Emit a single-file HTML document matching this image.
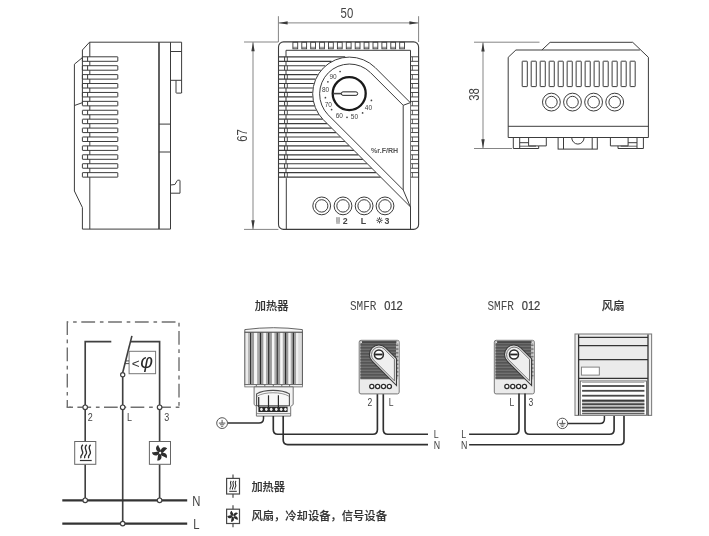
<!DOCTYPE html>
<html lang="zh"><head><meta charset="utf-8"><title>SMFR 012</title>
<style>html,body{margin:0;padding:0;background:#fff}svg{display:block;will-change:transform}</style></head>
<body><svg width="709" height="536" viewBox="0 0 709 536">
<rect width="709" height="536" fill="#fff"/>
<path d="M181.6,42.2 L89.5,42.2 L82.4,50 L82.4,57.6 L74.4,64.2 L74.4,191 L82.4,207.5 L82.4,229.1 L170.5,229.1" fill="none" stroke="#3c3c3c" stroke-width="1" />
<line x1="82.40" y1="57.60" x2="82.40" y2="102.70" stroke="#3c3c3c" stroke-width="1" />
<line x1="74.40" y1="105.50" x2="82.40" y2="102.70" stroke="#3c3c3c" stroke-width="1" />
<line x1="89.80" y1="42.20" x2="89.80" y2="56.80" stroke="#3c3c3c" stroke-width="1" />
<line x1="89.80" y1="177.13" x2="89.80" y2="229.10" stroke="#3c3c3c" stroke-width="1" />
<rect x="82.40" y="56.80" width="35.40" height="4.50" rx="0.3" fill="none" stroke="#3c3c3c" stroke-width="1"/>
<line x1="87.60" y1="56.80" x2="87.60" y2="61.30" stroke="#3c3c3c" stroke-width="1" />
<line x1="89.80" y1="61.30" x2="89.80" y2="65.71" stroke="#3c3c3c" stroke-width="1" />
<rect x="82.40" y="65.71" width="35.40" height="4.50" rx="0.3" fill="none" stroke="#3c3c3c" stroke-width="1"/>
<line x1="87.60" y1="65.71" x2="87.60" y2="70.21" stroke="#3c3c3c" stroke-width="1" />
<line x1="89.80" y1="70.21" x2="89.80" y2="74.62" stroke="#3c3c3c" stroke-width="1" />
<rect x="82.40" y="74.62" width="35.40" height="4.50" rx="0.3" fill="none" stroke="#3c3c3c" stroke-width="1"/>
<line x1="87.60" y1="74.62" x2="87.60" y2="79.12" stroke="#3c3c3c" stroke-width="1" />
<line x1="89.80" y1="79.12" x2="89.80" y2="83.53" stroke="#3c3c3c" stroke-width="1" />
<rect x="82.40" y="83.53" width="35.40" height="4.50" rx="0.3" fill="none" stroke="#3c3c3c" stroke-width="1"/>
<line x1="87.60" y1="83.53" x2="87.60" y2="88.03" stroke="#3c3c3c" stroke-width="1" />
<line x1="89.80" y1="88.03" x2="89.80" y2="92.44" stroke="#3c3c3c" stroke-width="1" />
<rect x="82.40" y="92.44" width="35.40" height="4.50" rx="0.3" fill="none" stroke="#3c3c3c" stroke-width="1"/>
<line x1="87.60" y1="92.44" x2="87.60" y2="96.94" stroke="#3c3c3c" stroke-width="1" />
<line x1="89.80" y1="96.94" x2="89.80" y2="101.35" stroke="#3c3c3c" stroke-width="1" />
<rect x="82.40" y="101.35" width="35.40" height="4.50" rx="0.3" fill="none" stroke="#3c3c3c" stroke-width="1"/>
<line x1="87.60" y1="101.35" x2="87.60" y2="105.85" stroke="#3c3c3c" stroke-width="1" />
<line x1="89.80" y1="105.85" x2="89.80" y2="110.26" stroke="#3c3c3c" stroke-width="1" />
<rect x="82.40" y="110.26" width="35.40" height="4.50" rx="0.3" fill="none" stroke="#3c3c3c" stroke-width="1"/>
<line x1="87.60" y1="110.26" x2="87.60" y2="114.76" stroke="#3c3c3c" stroke-width="1" />
<line x1="89.80" y1="114.76" x2="89.80" y2="119.17" stroke="#3c3c3c" stroke-width="1" />
<rect x="82.40" y="119.17" width="35.40" height="4.50" rx="0.3" fill="none" stroke="#3c3c3c" stroke-width="1"/>
<line x1="87.60" y1="119.17" x2="87.60" y2="123.67" stroke="#3c3c3c" stroke-width="1" />
<line x1="89.80" y1="123.67" x2="89.80" y2="128.08" stroke="#3c3c3c" stroke-width="1" />
<rect x="82.40" y="128.08" width="35.40" height="4.50" rx="0.3" fill="none" stroke="#3c3c3c" stroke-width="1"/>
<line x1="87.60" y1="128.08" x2="87.60" y2="132.58" stroke="#3c3c3c" stroke-width="1" />
<line x1="89.80" y1="132.58" x2="89.80" y2="136.99" stroke="#3c3c3c" stroke-width="1" />
<rect x="82.40" y="136.99" width="35.40" height="4.50" rx="0.3" fill="none" stroke="#3c3c3c" stroke-width="1"/>
<line x1="87.60" y1="136.99" x2="87.60" y2="141.49" stroke="#3c3c3c" stroke-width="1" />
<line x1="89.80" y1="141.49" x2="89.80" y2="145.90" stroke="#3c3c3c" stroke-width="1" />
<rect x="82.40" y="145.90" width="35.40" height="4.50" rx="0.3" fill="none" stroke="#3c3c3c" stroke-width="1"/>
<line x1="87.60" y1="145.90" x2="87.60" y2="150.40" stroke="#3c3c3c" stroke-width="1" />
<line x1="89.80" y1="150.40" x2="89.80" y2="154.81" stroke="#3c3c3c" stroke-width="1" />
<rect x="82.40" y="154.81" width="35.40" height="4.50" rx="0.3" fill="none" stroke="#3c3c3c" stroke-width="1"/>
<line x1="87.60" y1="154.81" x2="87.60" y2="159.31" stroke="#3c3c3c" stroke-width="1" />
<line x1="89.80" y1="159.31" x2="89.80" y2="163.72" stroke="#3c3c3c" stroke-width="1" />
<rect x="82.40" y="163.72" width="35.40" height="4.50" rx="0.3" fill="none" stroke="#3c3c3c" stroke-width="1"/>
<line x1="87.60" y1="163.72" x2="87.60" y2="168.22" stroke="#3c3c3c" stroke-width="1" />
<line x1="89.80" y1="168.22" x2="89.80" y2="172.63" stroke="#3c3c3c" stroke-width="1" />
<rect x="82.40" y="172.63" width="35.40" height="4.50" rx="0.3" fill="none" stroke="#3c3c3c" stroke-width="1"/>
<line x1="87.60" y1="172.63" x2="87.60" y2="177.13" stroke="#3c3c3c" stroke-width="1" />
<line x1="159.00" y1="42.20" x2="159.00" y2="229.10" stroke="#3a3a3a" stroke-width="1.6" />
<line x1="170.50" y1="42.20" x2="170.50" y2="229.10" stroke="#3c3c3c" stroke-width="1" />
<line x1="181.60" y1="42.20" x2="181.60" y2="93.10" stroke="#3c3c3c" stroke-width="1" />
<line x1="170.50" y1="51.50" x2="181.60" y2="51.50" stroke="#3c3c3c" stroke-width="1" />
<line x1="170.50" y1="80.30" x2="181.60" y2="80.30" stroke="#3c3c3c" stroke-width="1" />
<path d="M176,80.3 L176,92.6 Q176,93.1 176.5,93.1 L181.1,93.1 Q181.6,93.1 181.6,92.6" fill="none" stroke="#3c3c3c" stroke-width="1" />
<line x1="159.00" y1="124.10" x2="170.50" y2="124.10" stroke="#3c3c3c" stroke-width="1" />
<line x1="159.00" y1="152.00" x2="170.50" y2="152.00" stroke="#3c3c3c" stroke-width="1" />
<path d="M170.5,185 L174.9,184.5 L177.2,180.6 Q177.5,180.2 178,180.2 L179.4,180.2 Q180,180.2 180,180.8 L180,193.2 L170.5,193.2" fill="none" stroke="#3c3c3c" stroke-width="1" />
<line x1="278.50" y1="56.80" x2="345.20" y2="56.80" stroke="#3c3c3c" stroke-width="1.15" />
<line x1="278.50" y1="61.30" x2="331.57" y2="61.30" stroke="#3c3c3c" stroke-width="1.15" />
<line x1="278.50" y1="65.71" x2="325.19" y2="65.71" stroke="#3c3c3c" stroke-width="1.15" />
<line x1="278.50" y1="70.21" x2="320.79" y2="70.21" stroke="#3c3c3c" stroke-width="1.15" />
<line x1="278.50" y1="74.62" x2="317.67" y2="74.62" stroke="#3c3c3c" stroke-width="1.15" />
<line x1="278.50" y1="79.12" x2="315.37" y2="79.12" stroke="#3c3c3c" stroke-width="1.15" />
<line x1="278.50" y1="83.53" x2="313.80" y2="83.53" stroke="#3c3c3c" stroke-width="1.15" />
<line x1="278.50" y1="88.03" x2="312.82" y2="88.03" stroke="#3c3c3c" stroke-width="1.15" />
<line x1="278.50" y1="92.44" x2="312.42" y2="92.44" stroke="#3c3c3c" stroke-width="1.15" />
<line x1="278.50" y1="96.94" x2="312.55" y2="96.94" stroke="#3c3c3c" stroke-width="1.15" />
<line x1="278.50" y1="101.35" x2="313.23" y2="101.35" stroke="#3c3c3c" stroke-width="1.15" />
<line x1="278.50" y1="105.85" x2="314.50" y2="105.85" stroke="#3c3c3c" stroke-width="1.15" />
<line x1="278.50" y1="110.26" x2="316.39" y2="110.26" stroke="#3c3c3c" stroke-width="1.15" />
<line x1="278.50" y1="114.76" x2="319.09" y2="114.76" stroke="#3c3c3c" stroke-width="1.15" />
<line x1="278.50" y1="119.17" x2="322.73" y2="119.17" stroke="#3c3c3c" stroke-width="1.15" />
<line x1="278.50" y1="123.67" x2="327.23" y2="123.67" stroke="#3c3c3c" stroke-width="1.15" />
<line x1="278.50" y1="128.08" x2="331.64" y2="128.08" stroke="#3c3c3c" stroke-width="1.15" />
<line x1="278.50" y1="132.58" x2="336.14" y2="132.58" stroke="#3c3c3c" stroke-width="1.15" />
<line x1="278.50" y1="136.99" x2="340.55" y2="136.99" stroke="#3c3c3c" stroke-width="1.15" />
<line x1="278.50" y1="141.49" x2="345.05" y2="141.49" stroke="#3c3c3c" stroke-width="1.15" />
<line x1="278.50" y1="145.90" x2="349.46" y2="145.90" stroke="#3c3c3c" stroke-width="1.15" />
<line x1="278.50" y1="150.40" x2="353.96" y2="150.40" stroke="#3c3c3c" stroke-width="1.15" />
<line x1="278.50" y1="154.81" x2="358.37" y2="154.81" stroke="#3c3c3c" stroke-width="1.15" />
<line x1="278.50" y1="159.31" x2="362.87" y2="159.31" stroke="#3c3c3c" stroke-width="1.15" />
<line x1="278.50" y1="163.72" x2="367.28" y2="163.72" stroke="#3c3c3c" stroke-width="1.15" />
<line x1="278.50" y1="168.22" x2="371.78" y2="168.22" stroke="#3c3c3c" stroke-width="1.15" />
<line x1="278.50" y1="172.63" x2="376.19" y2="172.63" stroke="#3c3c3c" stroke-width="1.15" />
<line x1="278.50" y1="177.13" x2="380.69" y2="177.13" stroke="#3c3c3c" stroke-width="1.15" />
<line x1="284.60" y1="56.80" x2="284.60" y2="61.30" stroke="#3c3c3c" stroke-width="1" />
<line x1="287.30" y1="56.80" x2="287.30" y2="61.30" stroke="#3c3c3c" stroke-width="0.9" />
<line x1="286.00" y1="61.30" x2="286.00" y2="65.71" stroke="#3c3c3c" stroke-width="1" />
<line x1="284.60" y1="65.71" x2="284.60" y2="70.21" stroke="#3c3c3c" stroke-width="1" />
<line x1="287.30" y1="65.71" x2="287.30" y2="70.21" stroke="#3c3c3c" stroke-width="0.9" />
<line x1="286.00" y1="70.21" x2="286.00" y2="74.62" stroke="#3c3c3c" stroke-width="1" />
<line x1="284.60" y1="74.62" x2="284.60" y2="79.12" stroke="#3c3c3c" stroke-width="1" />
<line x1="287.30" y1="74.62" x2="287.30" y2="79.12" stroke="#3c3c3c" stroke-width="0.9" />
<line x1="286.00" y1="79.12" x2="286.00" y2="83.53" stroke="#3c3c3c" stroke-width="1" />
<line x1="284.60" y1="83.53" x2="284.60" y2="88.03" stroke="#3c3c3c" stroke-width="1" />
<line x1="287.30" y1="83.53" x2="287.30" y2="88.03" stroke="#3c3c3c" stroke-width="0.9" />
<line x1="286.00" y1="88.03" x2="286.00" y2="92.44" stroke="#3c3c3c" stroke-width="1" />
<line x1="284.60" y1="92.44" x2="284.60" y2="96.94" stroke="#3c3c3c" stroke-width="1" />
<line x1="287.30" y1="92.44" x2="287.30" y2="96.94" stroke="#3c3c3c" stroke-width="0.9" />
<line x1="286.00" y1="96.94" x2="286.00" y2="101.35" stroke="#3c3c3c" stroke-width="1" />
<line x1="284.60" y1="101.35" x2="284.60" y2="105.85" stroke="#3c3c3c" stroke-width="1" />
<line x1="287.30" y1="101.35" x2="287.30" y2="105.85" stroke="#3c3c3c" stroke-width="0.9" />
<line x1="286.00" y1="105.85" x2="286.00" y2="110.26" stroke="#3c3c3c" stroke-width="1" />
<line x1="284.60" y1="110.26" x2="284.60" y2="114.76" stroke="#3c3c3c" stroke-width="1" />
<line x1="287.30" y1="110.26" x2="287.30" y2="114.76" stroke="#3c3c3c" stroke-width="0.9" />
<line x1="286.00" y1="114.76" x2="286.00" y2="119.17" stroke="#3c3c3c" stroke-width="1" />
<line x1="284.60" y1="119.17" x2="284.60" y2="123.67" stroke="#3c3c3c" stroke-width="1" />
<line x1="287.30" y1="119.17" x2="287.30" y2="123.67" stroke="#3c3c3c" stroke-width="0.9" />
<line x1="286.00" y1="123.67" x2="286.00" y2="128.08" stroke="#3c3c3c" stroke-width="1" />
<line x1="284.60" y1="128.08" x2="284.60" y2="132.58" stroke="#3c3c3c" stroke-width="1" />
<line x1="287.30" y1="128.08" x2="287.30" y2="132.58" stroke="#3c3c3c" stroke-width="0.9" />
<line x1="286.00" y1="132.58" x2="286.00" y2="136.99" stroke="#3c3c3c" stroke-width="1" />
<line x1="284.60" y1="136.99" x2="284.60" y2="141.49" stroke="#3c3c3c" stroke-width="1" />
<line x1="287.30" y1="136.99" x2="287.30" y2="141.49" stroke="#3c3c3c" stroke-width="0.9" />
<line x1="286.00" y1="141.49" x2="286.00" y2="145.90" stroke="#3c3c3c" stroke-width="1" />
<line x1="284.60" y1="145.90" x2="284.60" y2="150.40" stroke="#3c3c3c" stroke-width="1" />
<line x1="287.30" y1="145.90" x2="287.30" y2="150.40" stroke="#3c3c3c" stroke-width="0.9" />
<line x1="286.00" y1="150.40" x2="286.00" y2="154.81" stroke="#3c3c3c" stroke-width="1" />
<line x1="284.60" y1="154.81" x2="284.60" y2="159.31" stroke="#3c3c3c" stroke-width="1" />
<line x1="287.30" y1="154.81" x2="287.30" y2="159.31" stroke="#3c3c3c" stroke-width="0.9" />
<line x1="286.00" y1="159.31" x2="286.00" y2="163.72" stroke="#3c3c3c" stroke-width="1" />
<line x1="284.60" y1="163.72" x2="284.60" y2="168.22" stroke="#3c3c3c" stroke-width="1" />
<line x1="287.30" y1="163.72" x2="287.30" y2="168.22" stroke="#3c3c3c" stroke-width="0.9" />
<line x1="286.00" y1="168.22" x2="286.00" y2="172.63" stroke="#3c3c3c" stroke-width="1" />
<line x1="284.60" y1="172.63" x2="284.60" y2="177.13" stroke="#3c3c3c" stroke-width="1" />
<line x1="287.30" y1="172.63" x2="287.30" y2="177.13" stroke="#3c3c3c" stroke-width="0.9" />
<rect x="278.50" y="41.90" width="140.10" height="187.50" rx="5" fill="none" stroke="#3c3c3c" stroke-width="1.1"/>
<path d="M286,56.8 L286,50.3 L410.5,50.3 L410.5,56.8" fill="none" stroke="#3c3c3c" stroke-width="1" />
<rect x="292.90" y="42.20" width="4.80" height="6.60" rx="0" fill="none" stroke="#3c3c3c" stroke-width="0.9"/>
<line x1="292.90" y1="47.30" x2="297.70" y2="47.30" stroke="#3c3c3c" stroke-width="0.6" />
<rect x="301.80" y="42.20" width="4.80" height="6.60" rx="0" fill="none" stroke="#3c3c3c" stroke-width="0.9"/>
<line x1="301.80" y1="47.30" x2="306.60" y2="47.30" stroke="#3c3c3c" stroke-width="0.6" />
<rect x="310.70" y="42.20" width="4.80" height="6.60" rx="0" fill="none" stroke="#3c3c3c" stroke-width="0.9"/>
<line x1="310.70" y1="47.30" x2="315.50" y2="47.30" stroke="#3c3c3c" stroke-width="0.6" />
<rect x="319.60" y="42.20" width="4.80" height="6.60" rx="0" fill="none" stroke="#3c3c3c" stroke-width="0.9"/>
<line x1="319.60" y1="47.30" x2="324.40" y2="47.30" stroke="#3c3c3c" stroke-width="0.6" />
<rect x="328.50" y="42.20" width="4.80" height="6.60" rx="0" fill="none" stroke="#3c3c3c" stroke-width="0.9"/>
<line x1="328.50" y1="47.30" x2="333.30" y2="47.30" stroke="#3c3c3c" stroke-width="0.6" />
<rect x="337.40" y="42.20" width="4.80" height="6.60" rx="0" fill="none" stroke="#3c3c3c" stroke-width="0.9"/>
<line x1="337.40" y1="47.30" x2="342.20" y2="47.30" stroke="#3c3c3c" stroke-width="0.6" />
<rect x="346.30" y="42.20" width="4.80" height="6.60" rx="0" fill="none" stroke="#3c3c3c" stroke-width="0.9"/>
<line x1="346.30" y1="47.30" x2="351.10" y2="47.30" stroke="#3c3c3c" stroke-width="0.6" />
<rect x="355.20" y="42.20" width="4.80" height="6.60" rx="0" fill="none" stroke="#3c3c3c" stroke-width="0.9"/>
<line x1="355.20" y1="47.30" x2="360.00" y2="47.30" stroke="#3c3c3c" stroke-width="0.6" />
<rect x="364.10" y="42.20" width="4.80" height="6.60" rx="0" fill="none" stroke="#3c3c3c" stroke-width="0.9"/>
<line x1="364.10" y1="47.30" x2="368.90" y2="47.30" stroke="#3c3c3c" stroke-width="0.6" />
<rect x="373.00" y="42.20" width="4.80" height="6.60" rx="0" fill="none" stroke="#3c3c3c" stroke-width="0.9"/>
<line x1="373.00" y1="47.30" x2="377.80" y2="47.30" stroke="#3c3c3c" stroke-width="0.6" />
<rect x="381.90" y="42.20" width="4.80" height="6.60" rx="0" fill="none" stroke="#3c3c3c" stroke-width="0.9"/>
<line x1="381.90" y1="47.30" x2="386.70" y2="47.30" stroke="#3c3c3c" stroke-width="0.6" />
<rect x="390.80" y="42.20" width="4.80" height="6.60" rx="0" fill="none" stroke="#3c3c3c" stroke-width="0.9"/>
<line x1="390.80" y1="47.30" x2="395.60" y2="47.30" stroke="#3c3c3c" stroke-width="0.6" />
<rect x="399.70" y="42.20" width="4.80" height="6.60" rx="0" fill="none" stroke="#3c3c3c" stroke-width="0.9"/>
<line x1="399.70" y1="47.30" x2="404.50" y2="47.30" stroke="#3c3c3c" stroke-width="0.6" />
<line x1="410.50" y1="56.80" x2="410.50" y2="178.20" stroke="#3c3c3c" stroke-width="1" />
<rect x="410.50" y="56.80" width="8.10" height="4.50" rx="0" fill="none" stroke="#3c3c3c" stroke-width="0.9"/>
<line x1="412.40" y1="56.80" x2="412.40" y2="61.30" stroke="#3c3c3c" stroke-width="0.8" />
<rect x="410.50" y="65.71" width="8.10" height="4.50" rx="0" fill="none" stroke="#3c3c3c" stroke-width="0.9"/>
<line x1="412.40" y1="65.71" x2="412.40" y2="70.21" stroke="#3c3c3c" stroke-width="0.8" />
<rect x="410.50" y="74.62" width="8.10" height="4.50" rx="0" fill="none" stroke="#3c3c3c" stroke-width="0.9"/>
<line x1="412.40" y1="74.62" x2="412.40" y2="79.12" stroke="#3c3c3c" stroke-width="0.8" />
<rect x="410.50" y="83.53" width="8.10" height="4.50" rx="0" fill="none" stroke="#3c3c3c" stroke-width="0.9"/>
<line x1="412.40" y1="83.53" x2="412.40" y2="88.03" stroke="#3c3c3c" stroke-width="0.8" />
<rect x="410.50" y="92.44" width="8.10" height="4.50" rx="0" fill="none" stroke="#3c3c3c" stroke-width="0.9"/>
<line x1="412.40" y1="92.44" x2="412.40" y2="96.94" stroke="#3c3c3c" stroke-width="0.8" />
<rect x="410.50" y="101.35" width="8.10" height="4.50" rx="0" fill="none" stroke="#3c3c3c" stroke-width="0.9"/>
<line x1="412.40" y1="101.35" x2="412.40" y2="105.85" stroke="#3c3c3c" stroke-width="0.8" />
<rect x="410.50" y="110.26" width="8.10" height="4.50" rx="0" fill="none" stroke="#3c3c3c" stroke-width="0.9"/>
<line x1="412.40" y1="110.26" x2="412.40" y2="114.76" stroke="#3c3c3c" stroke-width="0.8" />
<rect x="410.50" y="119.17" width="8.10" height="4.50" rx="0" fill="none" stroke="#3c3c3c" stroke-width="0.9"/>
<line x1="412.40" y1="119.17" x2="412.40" y2="123.67" stroke="#3c3c3c" stroke-width="0.8" />
<rect x="410.50" y="128.08" width="8.10" height="4.50" rx="0" fill="none" stroke="#3c3c3c" stroke-width="0.9"/>
<line x1="412.40" y1="128.08" x2="412.40" y2="132.58" stroke="#3c3c3c" stroke-width="0.8" />
<rect x="410.50" y="136.99" width="8.10" height="4.50" rx="0" fill="none" stroke="#3c3c3c" stroke-width="0.9"/>
<line x1="412.40" y1="136.99" x2="412.40" y2="141.49" stroke="#3c3c3c" stroke-width="0.8" />
<rect x="410.50" y="145.90" width="8.10" height="4.50" rx="0" fill="none" stroke="#3c3c3c" stroke-width="0.9"/>
<line x1="412.40" y1="145.90" x2="412.40" y2="150.40" stroke="#3c3c3c" stroke-width="0.8" />
<rect x="410.50" y="154.81" width="8.10" height="4.50" rx="0" fill="none" stroke="#3c3c3c" stroke-width="0.9"/>
<line x1="412.40" y1="154.81" x2="412.40" y2="159.31" stroke="#3c3c3c" stroke-width="0.8" />
<rect x="410.50" y="163.72" width="8.10" height="4.50" rx="0" fill="none" stroke="#3c3c3c" stroke-width="0.9"/>
<line x1="412.40" y1="163.72" x2="412.40" y2="168.22" stroke="#3c3c3c" stroke-width="0.8" />
<rect x="410.50" y="172.63" width="8.10" height="4.50" rx="0" fill="none" stroke="#3c3c3c" stroke-width="0.9"/>
<line x1="412.40" y1="172.63" x2="412.40" y2="177.13" stroke="#3c3c3c" stroke-width="0.8" />
<line x1="286.30" y1="178.20" x2="286.30" y2="229.40" stroke="#3c3c3c" stroke-width="1" />
<line x1="410.50" y1="178.20" x2="410.50" y2="229.40" stroke="#3c3c3c" stroke-width="1" />
<path d="M323.18,119.62 A36.8,36.8 0 0 1 375.22,67.58 L410.3,102.66 L410.3,206.74 Z" fill="#fff" stroke="none" stroke-width="0" />
<path d="M410.3,206.74 L323.18,119.62 A36.8,36.8 0 0 1 375.22,67.58 L410.3,102.66" fill="none" stroke="#3c3c3c" stroke-width="1" />
<path d="M403.2,105.32 L370.34,72.46 A29.9,29.9 0 0 0 328.06,114.74 L403.2,189.88 Z" fill="none" stroke="#3c3c3c" stroke-width="1" />
<line x1="403.20" y1="105.32" x2="410.30" y2="102.66" stroke="#3c3c3c" stroke-width="1" />
<line x1="403.20" y1="189.88" x2="410.30" y2="206.74" stroke="#3c3c3c" stroke-width="1" />
<circle cx="349.20" cy="93.60" r="16.50" fill="none" stroke="#1a1a1a" stroke-width="2.3"/>
<line x1="333.00" y1="93.60" x2="342.00" y2="93.60" stroke="#444" stroke-width="1.6" />
<rect x="341.30" y="91.85" width="16.40" height="3.50" rx="1.75" fill="#fff" stroke="#222" stroke-width="1"/>
<text x="333.10" y="78.80" font-size="6.5" text-anchor="middle" font-family='"Liberation Sans", sans-serif' font-weight="normal" fill="#404040"  >90</text>
<text x="325.60" y="92.30" font-size="6.5" text-anchor="middle" font-family='"Liberation Sans", sans-serif' font-weight="normal" fill="#404040"  >80</text>
<text x="328.30" y="107.20" font-size="6.5" text-anchor="middle" font-family='"Liberation Sans", sans-serif' font-weight="normal" fill="#404040"  >70</text>
<text x="339.30" y="117.80" font-size="6.5" text-anchor="middle" font-family='"Liberation Sans", sans-serif' font-weight="normal" fill="#404040"  >60</text>
<text x="354.40" y="118.70" font-size="6.5" text-anchor="middle" font-family='"Liberation Sans", sans-serif' font-weight="normal" fill="#404040"  >50</text>
<text x="368.40" y="110.00" font-size="6.5" text-anchor="middle" font-family='"Liberation Sans", sans-serif' font-weight="normal" fill="#404040"  >40</text>
<circle cx="340.1" cy="71.5" r="0.85" fill="#444"/>
<circle cx="327.9" cy="81.8" r="0.85" fill="#444"/>
<circle cx="325.4" cy="97.7" r="0.85" fill="#444"/>
<circle cx="331.6" cy="109.6" r="0.85" fill="#444"/>
<circle cx="347" cy="117.3" r="0.85" fill="#444"/>
<circle cx="362.6" cy="112.9" r="0.85" fill="#444"/>
<circle cx="371.4" cy="100.4" r="0.85" fill="#444"/>
<text x="384.60" y="152.70" font-size="6.3" text-anchor="middle" font-family='"Liberation Sans", sans-serif' font-weight="bold" fill="#555" textLength="27" lengthAdjust="spacingAndGlyphs" >%r.F/RH</text>
<circle cx="321.70" cy="205.90" r="8.90" fill="none" stroke="#3c3c3c" stroke-width="1"/>
<circle cx="321.70" cy="205.90" r="6.20" fill="none" stroke="#3c3c3c" stroke-width="1"/>
<circle cx="343.00" cy="205.90" r="8.90" fill="none" stroke="#3c3c3c" stroke-width="1"/>
<circle cx="343.00" cy="205.90" r="6.20" fill="none" stroke="#3c3c3c" stroke-width="1"/>
<circle cx="364.10" cy="205.90" r="8.90" fill="none" stroke="#3c3c3c" stroke-width="1"/>
<circle cx="364.10" cy="205.90" r="6.20" fill="none" stroke="#3c3c3c" stroke-width="1"/>
<circle cx="385.00" cy="205.90" r="8.90" fill="none" stroke="#3c3c3c" stroke-width="1"/>
<circle cx="385.00" cy="205.90" r="6.20" fill="none" stroke="#3c3c3c" stroke-width="1"/>
<text x="345.10" y="223.50" font-size="8.8" text-anchor="middle" font-family='"Liberation Sans", sans-serif' font-weight="bold" fill="#444"  >2</text>
<text x="363.40" y="223.50" font-size="8.8" text-anchor="middle" font-family='"Liberation Sans", sans-serif' font-weight="bold" fill="#444"  >L</text>
<text x="387.00" y="223.50" font-size="8.8" text-anchor="middle" font-family='"Liberation Sans", sans-serif' font-weight="bold" fill="#444"  >3</text>
<line x1="336.75" y1="217.20" x2="336.75" y2="222.20" stroke="#666" stroke-width="0.7" />
<line x1="338.00" y1="217.20" x2="338.00" y2="222.20" stroke="#666" stroke-width="0.7" />
<line x1="339.25" y1="217.20" x2="339.25" y2="222.20" stroke="#666" stroke-width="0.7" />
<line x1="336.10" y1="223.00" x2="339.90" y2="223.00" stroke="#666" stroke-width="0.8" />
<line x1="376.40" y1="220.30" x2="382.60" y2="220.30" stroke="#444" stroke-width="1.0" />
<line x1="377.31" y1="218.11" x2="381.69" y2="222.49" stroke="#444" stroke-width="1.0" />
<line x1="379.50" y1="217.20" x2="379.50" y2="223.40" stroke="#444" stroke-width="1.0" />
<line x1="381.69" y1="218.11" x2="377.31" y2="222.49" stroke="#444" stroke-width="1.0" />
<circle cx="379.5" cy="220.3" r="0.9" fill="#fff"/>
<line x1="278.40" y1="16.20" x2="278.40" y2="42.00" stroke="#858585" stroke-width="1" />
<line x1="418.60" y1="16.20" x2="418.60" y2="42.00" stroke="#858585" stroke-width="1" />
<line x1="278.40" y1="22.90" x2="418.60" y2="22.90" stroke="#858585" stroke-width="1" />
<polygon points="278.60,22.90 287.60,21.20 287.60,24.60" fill="#3a3a3a"/>
<polygon points="418.40,22.90 409.40,24.60 409.40,21.20" fill="#3a3a3a"/>
<text transform="translate(346.9,18.2) scale(0.8,1)" font-size="14.2" text-anchor="middle" font-family='"Liberation Sans", sans-serif' fill="#444">50</text>
<line x1="244.00" y1="42.00" x2="278.40" y2="42.00" stroke="#858585" stroke-width="1" />
<line x1="244.00" y1="229.40" x2="278.40" y2="229.40" stroke="#858585" stroke-width="1" />
<line x1="253.00" y1="42.00" x2="253.00" y2="229.40" stroke="#858585" stroke-width="1" />
<polygon points="253.00,42.20 254.70,51.20 251.30,51.20" fill="#3a3a3a"/>
<polygon points="253.00,229.20 251.30,220.20 254.70,220.20" fill="#3a3a3a"/>
<text transform="translate(247.4,135.4) rotate(-90) scale(0.8,1)" font-size="14.2" text-anchor="middle" font-family='"Liberation Sans", sans-serif' fill="#444">67</text>
<line x1="474.00" y1="42.20" x2="539.50" y2="42.20" stroke="#858585" stroke-width="1" />
<line x1="474.00" y1="148.50" x2="512.00" y2="148.50" stroke="#858585" stroke-width="1" />
<line x1="483.00" y1="42.20" x2="483.00" y2="148.50" stroke="#858585" stroke-width="1" />
<polygon points="483.00,42.40 484.70,51.40 481.30,51.40" fill="#3a3a3a"/>
<polygon points="483.00,148.30 481.30,139.30 484.70,139.30" fill="#3a3a3a"/>
<text transform="translate(479.1,94.5) rotate(-90) scale(0.8,1)" font-size="14.2" text-anchor="middle" font-family='"Liberation Sans", sans-serif' fill="#444">38</text>
<path d="M541.9,50.0 L550.1,42.3 L632.7,42.3 L648.4,57.3 L648.4,137.5 L508.2,137.5 L508.2,57.3 L515.9,50.0 L639.9,50.0" fill="none" stroke="#3c3c3c" stroke-width="1" />
<line x1="508.20" y1="126.30" x2="648.40" y2="126.30" stroke="#3c3c3c" stroke-width="1" />
<rect x="522.20" y="61.20" width="5.10" height="25.40" rx="0.4" fill="none" stroke="#3c3c3c" stroke-width="1"/>
<rect x="531.19" y="61.20" width="5.10" height="25.40" rx="0.4" fill="none" stroke="#3c3c3c" stroke-width="1"/>
<rect x="540.18" y="61.20" width="5.10" height="25.40" rx="0.4" fill="none" stroke="#3c3c3c" stroke-width="1"/>
<rect x="549.17" y="61.20" width="5.10" height="25.40" rx="0.4" fill="none" stroke="#3c3c3c" stroke-width="1"/>
<rect x="558.16" y="61.20" width="5.10" height="25.40" rx="0.4" fill="none" stroke="#3c3c3c" stroke-width="1"/>
<rect x="567.15" y="61.20" width="5.10" height="25.40" rx="0.4" fill="none" stroke="#3c3c3c" stroke-width="1"/>
<rect x="576.14" y="61.20" width="5.10" height="25.40" rx="0.4" fill="none" stroke="#3c3c3c" stroke-width="1"/>
<rect x="585.13" y="61.20" width="5.10" height="25.40" rx="0.4" fill="none" stroke="#3c3c3c" stroke-width="1"/>
<rect x="594.12" y="61.20" width="5.10" height="25.40" rx="0.4" fill="none" stroke="#3c3c3c" stroke-width="1"/>
<rect x="603.11" y="61.20" width="5.10" height="25.40" rx="0.4" fill="none" stroke="#3c3c3c" stroke-width="1"/>
<rect x="612.10" y="61.20" width="5.10" height="25.40" rx="0.4" fill="none" stroke="#3c3c3c" stroke-width="1"/>
<rect x="621.09" y="61.20" width="5.10" height="25.40" rx="0.4" fill="none" stroke="#3c3c3c" stroke-width="1"/>
<rect x="630.08" y="61.20" width="5.10" height="25.40" rx="0.4" fill="none" stroke="#3c3c3c" stroke-width="1"/>
<circle cx="551.40" cy="102.10" r="8.90" fill="none" stroke="#3c3c3c" stroke-width="1"/>
<circle cx="551.40" cy="102.10" r="5.80" fill="none" stroke="#3c3c3c" stroke-width="1"/>
<circle cx="572.50" cy="102.10" r="8.90" fill="none" stroke="#3c3c3c" stroke-width="1"/>
<circle cx="572.50" cy="102.10" r="5.80" fill="none" stroke="#3c3c3c" stroke-width="1"/>
<circle cx="593.60" cy="102.10" r="8.90" fill="none" stroke="#3c3c3c" stroke-width="1"/>
<circle cx="593.60" cy="102.10" r="5.80" fill="none" stroke="#3c3c3c" stroke-width="1"/>
<circle cx="614.70" cy="102.10" r="8.90" fill="none" stroke="#3c3c3c" stroke-width="1"/>
<circle cx="614.70" cy="102.10" r="5.80" fill="none" stroke="#3c3c3c" stroke-width="1"/>
<path d="M513.30,137.50 L513.30,148.50 L538.70,148.50 L538.70,145.90 L546.30,145.90 L546.30,137.50" fill="none" stroke="#3c3c3c" stroke-width="1" />
<line x1="519.70" y1="137.50" x2="519.70" y2="148.50" stroke="#3c3c3c" stroke-width="1" />
<line x1="528.60" y1="137.50" x2="528.60" y2="145.90" stroke="#3c3c3c" stroke-width="1" />
<line x1="528.60" y1="145.90" x2="538.70" y2="145.90" stroke="#3c3c3c" stroke-width="1" />
<line x1="519.70" y1="142.70" x2="528.60" y2="142.70" stroke="#3c3c3c" stroke-width="1" />
<line x1="519.70" y1="146.20" x2="536.00" y2="146.20" stroke="#3c3c3c" stroke-width="0.8" />
<path d="M643.40,137.50 L643.40,148.50 L618.00,148.50 L618.00,145.90 L610.40,145.90 L610.40,137.50" fill="none" stroke="#3c3c3c" stroke-width="1" />
<line x1="637.00" y1="137.50" x2="637.00" y2="148.50" stroke="#3c3c3c" stroke-width="1" />
<line x1="628.10" y1="137.50" x2="628.10" y2="145.90" stroke="#3c3c3c" stroke-width="1" />
<line x1="628.10" y1="145.90" x2="618.00" y2="145.90" stroke="#3c3c3c" stroke-width="1" />
<line x1="637.00" y1="142.70" x2="628.10" y2="142.70" stroke="#3c3c3c" stroke-width="1" />
<line x1="637.00" y1="146.20" x2="620.70" y2="146.20" stroke="#3c3c3c" stroke-width="0.8" />
<rect x="558.10" y="137.50" width="39.20" height="11.60" rx="0" fill="none" stroke="#3c3c3c" stroke-width="1"/>
<line x1="563.50" y1="137.50" x2="563.50" y2="149.10" stroke="#3c3c3c" stroke-width="1" />
<line x1="592.20" y1="137.50" x2="592.20" y2="149.10" stroke="#3c3c3c" stroke-width="1" />
<path d="M571.7,137.5 A6.2,6.6 0 0 0 584.1,137.5" fill="none" stroke="#3c3c3c" stroke-width="1" />
<line x1="67.3" y1="322" x2="179" y2="322" stroke="#707070" stroke-width="1.4" stroke-dasharray="13.8 4.8 3.6 4.6" stroke-dashoffset="12.8"/>
<line x1="67.3" y1="321.3" x2="67.3" y2="407.3" stroke="#707070" stroke-width="1.4" stroke-dasharray="13.8 4.4 3.7 4.3" stroke-dashoffset="0"/>
<line x1="179" y1="322" x2="179" y2="407.3" stroke="#707070" stroke-width="1.4" stroke-dasharray="13.8 4.5 3.8 4.3" stroke-dashoffset="17.5"/>
<line x1="67.3" y1="407.3" x2="179.7" y2="407.3" stroke="#707070" stroke-width="1.4" stroke-dasharray="13.7 4.8 3.7 4.4" stroke-dashoffset="16.5"/>
<line x1="66.6" y1="407.3" x2="70.8" y2="407.3" stroke="#707070" stroke-width="1.4"/>
<path d="M85.2,405 L85.2,341.6 L111.3,341.6" fill="none" stroke="#404040" stroke-width="1.65" />
<path d="M159.6,405 L159.6,341.6 L130.2,341.6" fill="none" stroke="#404040" stroke-width="1.65" />
<line x1="122.70" y1="372.60" x2="131.90" y2="335.90" stroke="#404040" stroke-width="1.65" />
<line x1="122.70" y1="376.80" x2="122.70" y2="405.00" stroke="#404040" stroke-width="1.65" />
<circle cx="122.70" cy="374.70" r="2.10" fill="#fff" stroke="#404040" stroke-width="1.2"/>
<rect x="129.10" y="351.30" width="26.50" height="22.40" rx="0" fill="none" stroke="#777" stroke-width="1"/>
<line x1="125.40" y1="360.90" x2="129.10" y2="360.90" stroke="#404040" stroke-width="0.9" />
<line x1="124.80" y1="363.60" x2="129.10" y2="363.60" stroke="#404040" stroke-width="0.9" />
<text x="135.60" y="367.60" font-size="13.5" text-anchor="middle" font-family='"Liberation Sans", sans-serif' font-weight="normal" fill="#333"  >&lt;</text>
<text x="146.6" y="367.6" font-size="19.5" text-anchor="middle" font-family='"Liberation Sans","DejaVu Sans", sans-serif' font-style="italic" fill="#2a2a2a">φ</text>
<line x1="85.20" y1="409.60" x2="85.20" y2="441.40" stroke="#404040" stroke-width="1.65" />
<line x1="85.20" y1="464.30" x2="85.20" y2="498.00" stroke="#404040" stroke-width="1.65" />
<line x1="159.60" y1="409.60" x2="159.60" y2="441.40" stroke="#404040" stroke-width="1.65" />
<line x1="159.60" y1="464.30" x2="159.60" y2="498.00" stroke="#404040" stroke-width="1.65" />
<line x1="122.70" y1="409.60" x2="122.70" y2="521.40" stroke="#404040" stroke-width="1.65" />
<circle cx="85.20" cy="407.30" r="2.30" fill="#fff" stroke="#404040" stroke-width="1.2"/>
<circle cx="122.70" cy="407.30" r="2.30" fill="#fff" stroke="#404040" stroke-width="1.2"/>
<circle cx="159.60" cy="407.30" r="2.30" fill="#fff" stroke="#404040" stroke-width="1.2"/>
<text transform="translate(90.2,420.6) scale(0.78,1)" font-size="11.5" text-anchor="middle" font-family='"Liberation Sans", sans-serif' fill="#444">2</text>
<text transform="translate(129.5,420.6) scale(0.78,1)" font-size="11.5" text-anchor="middle" font-family='"Liberation Sans", sans-serif' fill="#444">L</text>
<text transform="translate(166.8,420.6) scale(0.78,1)" font-size="11.5" text-anchor="middle" font-family='"Liberation Sans", sans-serif' fill="#444">3</text>
<rect x="74.70" y="441.50" width="21.10" height="22.80" rx="0" fill="#fff" stroke="#666" stroke-width="1"/>
<rect x="149.40" y="441.50" width="21.10" height="22.80" rx="0" fill="#fff" stroke="#666" stroke-width="1"/>
<path d="M82.89999999999999,444.8 C78.6,448.6 85.0,451.2 82.0,454.4 C80.2,456.2 80.6,457.2 80.89999999999999,458.2" fill="none" stroke="#2e2e2e" stroke-width="1.35" />
<path d="M86.69999999999999,444.8 C82.39999999999999,448.6 88.8,451.2 85.8,454.4 C84.0,456.2 84.39999999999999,457.2 84.69999999999999,458.2" fill="none" stroke="#2e2e2e" stroke-width="1.35" />
<path d="M90.6,444.8 C86.3,448.6 92.7,451.2 89.7,454.4 C87.9,456.2 88.3,457.2 88.6,458.2" fill="none" stroke="#2e2e2e" stroke-width="1.35" />
<line x1="79.90" y1="460.50" x2="91.70" y2="460.50" stroke="#333" stroke-width="1.2" />
<path transform="translate(160.2,452.9) rotate(-90)" d="M0.9,-0.9 C1.6,-4.6 6.4,-5.4 8,-2.0 C6.2,-1.6 4.0,0.4 1.3,1.0 Z" fill="#2e2e2e"/>
<path transform="translate(160.2,452.9) rotate(-18)" d="M0.9,-0.9 C1.6,-4.6 6.4,-5.4 8,-2.0 C6.2,-1.6 4.0,0.4 1.3,1.0 Z" fill="#2e2e2e"/>
<path transform="translate(160.2,452.9) rotate(54)" d="M0.9,-0.9 C1.6,-4.6 6.4,-5.4 8,-2.0 C6.2,-1.6 4.0,0.4 1.3,1.0 Z" fill="#2e2e2e"/>
<path transform="translate(160.2,452.9) rotate(126)" d="M0.9,-0.9 C1.6,-4.6 6.4,-5.4 8,-2.0 C6.2,-1.6 4.0,0.4 1.3,1.0 Z" fill="#2e2e2e"/>
<path transform="translate(160.2,452.9) rotate(198)" d="M0.9,-0.9 C1.6,-4.6 6.4,-5.4 8,-2.0 C6.2,-1.6 4.0,0.4 1.3,1.0 Z" fill="#2e2e2e"/>
<line x1="62.30" y1="500.30" x2="187.20" y2="500.30" stroke="#333" stroke-width="2.2" />
<line x1="62.30" y1="523.60" x2="187.20" y2="523.60" stroke="#333" stroke-width="2.2" />
<circle cx="85.20" cy="500.30" r="2.30" fill="#fff" stroke="#404040" stroke-width="1.2"/>
<circle cx="159.60" cy="500.30" r="2.30" fill="#fff" stroke="#404040" stroke-width="1.2"/>
<circle cx="122.70" cy="523.60" r="2.30" fill="#fff" stroke="#404040" stroke-width="1.2"/>
<text transform="translate(196.4,506.0) scale(0.78,1)" font-size="14.5" text-anchor="middle" font-family='"Liberation Sans", sans-serif' fill="#444">N</text>
<text transform="translate(196.4,528.9) scale(0.78,1)" font-size="14.5" text-anchor="middle" font-family='"Liberation Sans", sans-serif' fill="#444">L</text>
<text x="271.6" y="309.8" font-size="11.2" text-anchor="middle" font-family='"Liberation Sans","Noto Sans CJK SC", sans-serif' font-weight="500" fill="#333" stroke="#333" stroke-width="0.12">加热器</text>
<text x="613.2" y="309.8" font-size="11.4" text-anchor="middle" font-family='"Liberation Sans","Noto Sans CJK SC", sans-serif' font-weight="500" fill="#333" stroke="#333" stroke-width="0.12">风扇</text>
<text transform="translate(349.90000000000003,310.1) scale(0.82,1)" font-size="13.5" text-anchor="start" font-family='"Liberation Mono", monospace' fill="#484848">SMFR</text>
<text transform="translate(402.8,310.0) scale(0.9,1)" font-size="12.4" text-anchor="end" font-family='"Liberation Sans", sans-serif' fill="#404040" stroke="#404040" stroke-width="0.25">012</text>
<text transform="translate(487.4,310.1) scale(0.82,1)" font-size="13.5" text-anchor="start" font-family='"Liberation Mono", monospace' fill="#484848">SMFR</text>
<text transform="translate(540.3,310.0) scale(0.9,1)" font-size="12.4" text-anchor="end" font-family='"Liberation Sans", sans-serif' fill="#404040" stroke="#404040" stroke-width="0.25">012</text>
<defs><linearGradient id="hs" x1="0" x2="1" y1="0" y2="0">
<stop offset="0" stop-color="#2e2e2e"/><stop offset="0.13" stop-color="#2e2e2e"/><stop offset="0.15" stop-color="#8e8e8e"/><stop offset="0.40" stop-color="#b4b4b4"/><stop offset="0.50" stop-color="#f4f4f4"/><stop offset="0.72" stop-color="#f4f4f4"/><stop offset="0.80" stop-color="#bcbcbc"/><stop offset="1" stop-color="#8e8e8e"/></linearGradient></defs>
<path d="M244.8,332.3 L244.8,329.6 Q273.6,325.8 302.4,329.6 L302.4,332.3 Z" fill="#f6f6f6" stroke="#555" stroke-width="0.9"/>
<rect x="244.8" y="332.3" width="57.599999999999966" height="52.2" fill="#ececec"/>
<rect x="250.90" y="332.3" width="3.25" height="52.2" fill="#9c9c9c"/>
<rect x="254.10" y="332.3" width="3.08" height="52.2" fill="#f6f6f6"/>
<rect x="257.13" y="332.3" width="2.72" height="52.2" fill="#ababab"/>
<rect x="249.70" y="332.3" width="1.25" height="52.2" fill="#2c2c2c"/>
<rect x="261.00" y="332.3" width="2.61" height="52.2" fill="#9c9c9c"/>
<rect x="263.56" y="332.3" width="2.46" height="52.2" fill="#f6f6f6"/>
<rect x="265.97" y="332.3" width="2.18" height="52.2" fill="#ababab"/>
<rect x="259.80" y="332.3" width="1.25" height="52.2" fill="#2c2c2c"/>
<rect x="269.30" y="332.3" width="2.68" height="52.2" fill="#9c9c9c"/>
<rect x="271.93" y="332.3" width="2.53" height="52.2" fill="#f6f6f6"/>
<rect x="274.41" y="332.3" width="2.24" height="52.2" fill="#ababab"/>
<rect x="268.10" y="332.3" width="1.25" height="52.2" fill="#2c2c2c"/>
<rect x="277.80" y="332.3" width="2.61" height="52.2" fill="#9c9c9c"/>
<rect x="280.36" y="332.3" width="2.46" height="52.2" fill="#f6f6f6"/>
<rect x="282.77" y="332.3" width="2.18" height="52.2" fill="#ababab"/>
<rect x="276.60" y="332.3" width="1.25" height="52.2" fill="#2c2c2c"/>
<rect x="286.10" y="332.3" width="2.43" height="52.2" fill="#9c9c9c"/>
<rect x="288.48" y="332.3" width="2.29" height="52.2" fill="#f6f6f6"/>
<rect x="290.72" y="332.3" width="2.03" height="52.2" fill="#ababab"/>
<rect x="284.90" y="332.3" width="1.25" height="52.2" fill="#2c2c2c"/>
<rect x="293.90" y="332.3" width="2.25" height="52.2" fill="#a2a2a2"/>
<rect x="296.10" y="332.3" width="2.25" height="52.2" fill="#f0f0f0"/>
<rect x="298.30" y="332.3" width="4.15" height="52.2" fill="#dcdcdc"/>
<rect x="292.70" y="332.3" width="1.25" height="52.2" fill="#2c2c2c"/>
<rect x="248.00" y="332.3" width="1.75" height="52.2" fill="#b8b8b8"/>
<rect x="244.8" y="332.3" width="57.599999999999966" height="52.2" fill="none" stroke="#555" stroke-width="1"/>
<rect x="244.8" y="384.5" width="57.599999999999966" height="2.4" fill="#f0f0f0" stroke="#666" stroke-width="0.8"/>
<rect x="255.8" y="385.2" width="1" height="1.2" fill="#444"/>
<rect x="264.3" y="385.2" width="1" height="1.2" fill="#444"/>
<rect x="272.8" y="385.2" width="1" height="1.2" fill="#444"/>
<rect x="281.3" y="385.2" width="1" height="1.2" fill="#444"/>
<rect x="289.1" y="385.2" width="1" height="1.2" fill="#444"/>
<path d="M254.1,386.9 L254.1,404.5 L256.4,406.5 L256.4,416.1 L290.7,416.1 L290.7,406.5 L293.2,404.5 L293.2,386.9 Z" fill="#f3f3f3" stroke="#666" stroke-width="0.9"/>
<path d="M256.6,393.9 C264,389.2 282,389.2 289.4,393.9 L289.4,405.8 L256.6,405.8 Z" fill="#f8f8f8" stroke="#505050" stroke-width="1.1"/>
<path d="M257.2,396.2 C264,391.6 282,391.6 288.8,396.2" fill="none" stroke="#777" stroke-width="0.8"/>
<line x1="258.7" y1="397" x2="258.7" y2="407" stroke="#2a2a2a" stroke-width="1.2"/>
<line x1="268.5" y1="395.3" x2="268.5" y2="407" stroke="#2a2a2a" stroke-width="1.2"/>
<line x1="278.4" y1="395.3" x2="278.4" y2="407" stroke="#2a2a2a" stroke-width="1.2"/>
<rect x="258.4" y="406.6" width="29.2" height="5.4" fill="#2a2a2a"/>
<ellipse cx="261.4" cy="409.3" rx="1.3" ry="1.6" fill="#eee"/>
<ellipse cx="266.3" cy="409.3" rx="1.3" ry="1.6" fill="#eee"/>
<ellipse cx="271.2" cy="409.3" rx="1.3" ry="1.6" fill="#eee"/>
<ellipse cx="276.3" cy="409.3" rx="1.3" ry="1.6" fill="#eee"/>
<ellipse cx="281.2" cy="409.3" rx="1.3" ry="1.6" fill="#eee"/>
<ellipse cx="285.4" cy="409.3" rx="1.3" ry="1.6" fill="#eee"/>
<line x1="256.4" y1="413.6" x2="290.7" y2="413.6" stroke="#777" stroke-width="0.8"/>
<path d="M263.5,416.1 L263.5,418.6 Q263.5,423.1 259.0,423.1 L227.8,423.1" fill="none" stroke="#303030" stroke-width="1.5" />
<path d="M273.3,416.1 L273.3,429.7 Q273.3,434.2 277.8,434.2 L372.9,434.2 Q377.4,434.2 377.4,429.7 L377.4,393.5" fill="none" stroke="#303030" stroke-width="1.65" />
<path d="M283.2,416.1 L283.2,440.1 Q283.2,444.6 287.7,444.6 L428,444.6" fill="none" stroke="#303030" stroke-width="1.65" />
<path d="M383.3,393.5 L383.3,429.7 Q383.3,434.2 387.8,434.2 L428,434.2" fill="none" stroke="#303030" stroke-width="1.65" />
<circle cx="222.10" cy="423.10" r="5.40" fill="#fff" stroke="#555" stroke-width="1"/>
<line x1="222.10" y1="419.86" x2="222.10" y2="423.10" stroke="#444" stroke-width="0.9" />
<line x1="218.86" y1="423.10" x2="225.34" y2="423.10" stroke="#444" stroke-width="0.9" />
<line x1="219.94" y1="424.72" x2="224.26" y2="424.72" stroke="#444" stroke-width="0.8" />
<line x1="221.02" y1="426.34" x2="223.18" y2="426.34" stroke="#444" stroke-width="0.8" />
<g transform="translate(359.2,340.3)">
<rect x="0" y="0" width="40" height="53.6" rx="1.8" fill="#ebebeb" stroke="#777" stroke-width="1"/>
<rect x="1.2" y="1.2" width="35.6" height="37.8" fill="#707070"/>
<rect x="36.8" y="1.2" width="2.4" height="37.8" fill="#c4c4c4"/>
<rect x="36.8" y="4.20" width="2.4" height="1.5" fill="#777"/>
<rect x="36.8" y="8.00" width="2.4" height="1.5" fill="#777"/>
<rect x="36.8" y="11.80" width="2.4" height="1.5" fill="#777"/>
<rect x="36.8" y="15.60" width="2.4" height="1.5" fill="#777"/>
<rect x="36.8" y="19.40" width="2.4" height="1.5" fill="#777"/>
<rect x="36.8" y="23.20" width="2.4" height="1.5" fill="#777"/>
<rect x="36.8" y="27.00" width="2.4" height="1.5" fill="#777"/>
<rect x="36.8" y="30.80" width="2.4" height="1.5" fill="#777"/>
<rect x="36.8" y="34.60" width="2.4" height="1.5" fill="#777"/>
<line x1="1.2" y1="4.6" x2="36.8" y2="4.6" stroke="#4c4c4c" stroke-width="1.3"/>
<line x1="1.2" y1="7.6" x2="36.8" y2="7.6" stroke="#4c4c4c" stroke-width="1.3"/>
<line x1="1.2" y1="10.6" x2="36.8" y2="10.6" stroke="#4c4c4c" stroke-width="1.3"/>
<line x1="1.2" y1="13.6" x2="36.8" y2="13.6" stroke="#4c4c4c" stroke-width="1.3"/>
<line x1="1.2" y1="16.6" x2="36.8" y2="16.6" stroke="#4c4c4c" stroke-width="1.3"/>
<line x1="1.2" y1="19.6" x2="36.8" y2="19.6" stroke="#4c4c4c" stroke-width="1.3"/>
<line x1="1.2" y1="22.6" x2="36.8" y2="22.6" stroke="#4c4c4c" stroke-width="1.3"/>
<line x1="1.2" y1="25.6" x2="36.8" y2="25.6" stroke="#4c4c4c" stroke-width="1.3"/>
<line x1="1.2" y1="28.6" x2="36.8" y2="28.6" stroke="#4c4c4c" stroke-width="1.3"/>
<line x1="1.2" y1="31.6" x2="36.8" y2="31.6" stroke="#4c4c4c" stroke-width="1.3"/>
<line x1="1.2" y1="34.6" x2="36.8" y2="34.6" stroke="#4c4c4c" stroke-width="1.3"/>
<line x1="1.2" y1="37.6" x2="36.8" y2="37.6" stroke="#4c4c4c" stroke-width="1.3"/>
<rect x="1.2" y="0.8" width="37.6" height="2.0" fill="#484848"/>
<rect x="1.0" y="1.0" width="1.8" height="1.6" fill="#eee"/><rect x="37.2" y="1.0" width="1.8" height="1.6" fill="#eee"/>
<path d="M12.98,20.92 A9.5,9.5 0 0 1 26.42,7.48 L37.3,18.36 L37.3,45.24 Z" fill="#e2e2e2" stroke="#383838" stroke-width="1.1"/>
<path d="M14.33,19.57 A7.6,7.6 0 0 1 25.07,8.83 L35.2,18.95 L35.2,40.45 Z" fill="#efefef" stroke="#555" stroke-width="0.8"/>
<circle cx="19.7" cy="14.2" r="4.5" fill="#fff" stroke="#2a2a2a" stroke-width="1.5"/>
<rect x="15.899999999999999" y="13.299999999999999" width="7.4" height="1.8" fill="#222"/>
<circle cx="12.60" cy="46.2" r="2.1" fill="#fff" stroke="#2e2e2e" stroke-width="1.3"/>
<circle cx="18.45" cy="46.2" r="2.1" fill="#fff" stroke="#2e2e2e" stroke-width="1.3"/>
<circle cx="24.30" cy="46.2" r="2.1" fill="#fff" stroke="#2e2e2e" stroke-width="1.3"/>
<circle cx="30.15" cy="46.2" r="2.1" fill="#fff" stroke="#2e2e2e" stroke-width="1.3"/>
</g>
<text transform="translate(370.0,406.3) scale(0.78,1)" font-size="11.0" text-anchor="middle" font-family='"Liberation Sans", sans-serif' fill="#444">2</text>
<text transform="translate(391.1,406.3) scale(0.78,1)" font-size="11.0" text-anchor="middle" font-family='"Liberation Sans", sans-serif' fill="#444">L</text>
<text transform="translate(436.1,438.0) scale(0.78,1)" font-size="11.3" text-anchor="middle" font-family='"Liberation Sans", sans-serif' fill="#444">L</text>
<text transform="translate(437.0,449.0) scale(0.78,1)" font-size="11.3" text-anchor="middle" font-family='"Liberation Sans", sans-serif' fill="#444">N</text>
<g transform="translate(494.3,340.3)">
<rect x="0" y="0" width="40" height="53.6" rx="1.8" fill="#ebebeb" stroke="#777" stroke-width="1"/>
<rect x="1.2" y="1.2" width="35.6" height="37.8" fill="#707070"/>
<rect x="36.8" y="1.2" width="2.4" height="37.8" fill="#c4c4c4"/>
<rect x="36.8" y="4.20" width="2.4" height="1.5" fill="#777"/>
<rect x="36.8" y="8.00" width="2.4" height="1.5" fill="#777"/>
<rect x="36.8" y="11.80" width="2.4" height="1.5" fill="#777"/>
<rect x="36.8" y="15.60" width="2.4" height="1.5" fill="#777"/>
<rect x="36.8" y="19.40" width="2.4" height="1.5" fill="#777"/>
<rect x="36.8" y="23.20" width="2.4" height="1.5" fill="#777"/>
<rect x="36.8" y="27.00" width="2.4" height="1.5" fill="#777"/>
<rect x="36.8" y="30.80" width="2.4" height="1.5" fill="#777"/>
<rect x="36.8" y="34.60" width="2.4" height="1.5" fill="#777"/>
<line x1="1.2" y1="4.6" x2="36.8" y2="4.6" stroke="#4c4c4c" stroke-width="1.3"/>
<line x1="1.2" y1="7.6" x2="36.8" y2="7.6" stroke="#4c4c4c" stroke-width="1.3"/>
<line x1="1.2" y1="10.6" x2="36.8" y2="10.6" stroke="#4c4c4c" stroke-width="1.3"/>
<line x1="1.2" y1="13.6" x2="36.8" y2="13.6" stroke="#4c4c4c" stroke-width="1.3"/>
<line x1="1.2" y1="16.6" x2="36.8" y2="16.6" stroke="#4c4c4c" stroke-width="1.3"/>
<line x1="1.2" y1="19.6" x2="36.8" y2="19.6" stroke="#4c4c4c" stroke-width="1.3"/>
<line x1="1.2" y1="22.6" x2="36.8" y2="22.6" stroke="#4c4c4c" stroke-width="1.3"/>
<line x1="1.2" y1="25.6" x2="36.8" y2="25.6" stroke="#4c4c4c" stroke-width="1.3"/>
<line x1="1.2" y1="28.6" x2="36.8" y2="28.6" stroke="#4c4c4c" stroke-width="1.3"/>
<line x1="1.2" y1="31.6" x2="36.8" y2="31.6" stroke="#4c4c4c" stroke-width="1.3"/>
<line x1="1.2" y1="34.6" x2="36.8" y2="34.6" stroke="#4c4c4c" stroke-width="1.3"/>
<line x1="1.2" y1="37.6" x2="36.8" y2="37.6" stroke="#4c4c4c" stroke-width="1.3"/>
<rect x="1.2" y="0.8" width="37.6" height="2.0" fill="#484848"/>
<rect x="1.0" y="1.0" width="1.8" height="1.6" fill="#eee"/><rect x="37.2" y="1.0" width="1.8" height="1.6" fill="#eee"/>
<path d="M12.98,20.92 A9.5,9.5 0 0 1 26.42,7.48 L37.3,18.36 L37.3,45.24 Z" fill="#e2e2e2" stroke="#383838" stroke-width="1.1"/>
<path d="M14.33,19.57 A7.6,7.6 0 0 1 25.07,8.83 L35.2,18.95 L35.2,40.45 Z" fill="#efefef" stroke="#555" stroke-width="0.8"/>
<circle cx="19.7" cy="14.2" r="4.5" fill="#fff" stroke="#2a2a2a" stroke-width="1.5"/>
<rect x="15.899999999999999" y="13.299999999999999" width="7.4" height="1.8" fill="#222"/>
<circle cx="12.60" cy="46.2" r="2.1" fill="#fff" stroke="#2e2e2e" stroke-width="1.3"/>
<circle cx="18.45" cy="46.2" r="2.1" fill="#fff" stroke="#2e2e2e" stroke-width="1.3"/>
<circle cx="24.30" cy="46.2" r="2.1" fill="#fff" stroke="#2e2e2e" stroke-width="1.3"/>
<circle cx="30.15" cy="46.2" r="2.1" fill="#fff" stroke="#2e2e2e" stroke-width="1.3"/>
</g>
<text transform="translate(511.9,406.3) scale(0.78,1)" font-size="11.0" text-anchor="middle" font-family='"Liberation Sans", sans-serif' fill="#444">L</text>
<text transform="translate(531.0,406.3) scale(0.78,1)" font-size="11.0" text-anchor="middle" font-family='"Liberation Sans", sans-serif' fill="#444">3</text>
<text transform="translate(463.8,438.0) scale(0.78,1)" font-size="11.3" text-anchor="middle" font-family='"Liberation Sans", sans-serif' fill="#444">L</text>
<text transform="translate(464.3,449.0) scale(0.78,1)" font-size="11.3" text-anchor="middle" font-family='"Liberation Sans", sans-serif' fill="#444">N</text>
<path d="M469.1,434.2 L514.5,434.2 Q519,434.2 519,429.7 L519,393.5" fill="none" stroke="#303030" stroke-width="1.65" />
<path d="M525,393.5 L525,429.7 Q525,434.2 529.5,434.2 L609.6,434.2 Q614.1,434.2 614.1,429.7 L614.1,415.6" fill="none" stroke="#303030" stroke-width="1.65" />
<path d="M469.1,444.7 L619.5,444.7 Q624,444.7 624,440.2 L624,415.6" fill="none" stroke="#303030" stroke-width="1.65" />
<path d="M604.4,415.6 L604.4,419.0 Q604.4,423.5 599.9,423.5 L567.6,423.5" fill="none" stroke="#303030" stroke-width="1.5" />
<circle cx="562.40" cy="423.40" r="5.20" fill="#fff" stroke="#555" stroke-width="1"/>
<line x1="562.40" y1="420.28" x2="562.40" y2="423.40" stroke="#444" stroke-width="0.9" />
<line x1="559.28" y1="423.40" x2="565.52" y2="423.40" stroke="#444" stroke-width="0.9" />
<line x1="560.32" y1="424.96" x2="564.48" y2="424.96" stroke="#444" stroke-width="0.8" />
<line x1="561.36" y1="426.52" x2="563.44" y2="426.52" stroke="#444" stroke-width="0.8" />
<rect x="575.0" y="334.0" width="76.6" height="81.4" fill="#f0f0f0" stroke="#808080" stroke-width="1.1"/>
<rect x="578.6" y="337.4" width="69.4" height="78.0" fill="#ebebeb" stroke="none"/>
<line x1="578.60" y1="334.40" x2="578.60" y2="415.40" stroke="#333" stroke-width="1.3" />
<line x1="648.00" y1="334.40" x2="648.00" y2="415.40" stroke="#333" stroke-width="1.3" />
<line x1="578.60" y1="337.40" x2="648.00" y2="337.40" stroke="#333" stroke-width="1.25" />
<line x1="578.60" y1="345.70" x2="648.00" y2="345.70" stroke="#333" stroke-width="1.25" />
<line x1="578.60" y1="359.60" x2="648.00" y2="359.60" stroke="#333" stroke-width="1.25" />
<line x1="578.60" y1="378.30" x2="648.00" y2="378.30" stroke="#333" stroke-width="1.25" />
<rect x="581.4" y="367.1" width="17.9" height="8" fill="#fff" stroke="#777" stroke-width="0.9"/>
<rect x="580.3" y="381.0" width="66.2" height="34.2" fill="#fff" stroke="#666" stroke-width="0.9"/>
<rect x="582.1" y="401.0" width="62.3" height="13.1" fill="#cdcdcd"/>
<rect x="582.1" y="385.1" width="62.3" height="1.80" fill="#4a4a4a"/>
<rect x="582.1" y="389.9" width="62.3" height="1.80" fill="#4a4a4a"/>
<rect x="582.1" y="394.8" width="62.3" height="1.80" fill="#4a4a4a"/>
<rect x="582.1" y="399.6" width="62.3" height="2.10" fill="#3a3a3a"/>
<rect x="582.1" y="403.3" width="62.3" height="1.80" fill="#484848"/>
<rect x="582.1" y="406.7" width="62.3" height="1.80" fill="#484848"/>
<rect x="582.1" y="410.0" width="62.3" height="1.80" fill="#484848"/>
<rect x="582.1" y="413.2" width="62.3" height="1.00" fill="#484848"/>
<line x1="582.10" y1="382.40" x2="644.30" y2="382.40" stroke="#888" stroke-width="0.7" />
<rect x="226.60" y="478.40" width="12.90" height="15.60" rx="0" fill="#fff" stroke="#484848" stroke-width="1.2"/>
<line x1="233.00" y1="474.40" x2="233.00" y2="478.40" stroke="#484848" stroke-width="1.2" />
<line x1="233.00" y1="494.00" x2="233.00" y2="497.70" stroke="#484848" stroke-width="1.2" />
<path d="M231.2,481 C228.9,483.2 232.4,485 230.6,487 C229.7,488 230.1,489 230.1,489.6" fill="none" stroke="#2a2a2a" stroke-width="1.05" />
<path d="M233.6,481 C231.3,483.2 234.8,485 233,487 C232.1,488 232.5,489 232.5,489.6" fill="none" stroke="#2a2a2a" stroke-width="1.05" />
<path d="M236.0,481 C233.70000000000002,483.2 237.20000000000002,485 235.4,487 C234.5,488 234.9,489 234.9,489.6" fill="none" stroke="#2a2a2a" stroke-width="1.05" />
<line x1="229.20" y1="491.30" x2="236.80" y2="491.30" stroke="#2a2a2a" stroke-width="1.0" />
<rect x="226.60" y="509.20" width="12.90" height="14.30" rx="0" fill="#fff" stroke="#484848" stroke-width="1.2"/>
<line x1="233.00" y1="505.20" x2="233.00" y2="509.20" stroke="#484848" stroke-width="1.2" />
<line x1="233.00" y1="523.50" x2="233.00" y2="527.30" stroke="#484848" stroke-width="1.2" />
<path transform="translate(233.1,516.3) rotate(-90) scale(0.7)" d="M0.9,-0.9 C1.6,-4.6 6.4,-5.4 8,-2.0 C6.2,-1.6 4.0,0.4 1.3,1.0 Z" fill="#2a2a2a"/>
<path transform="translate(233.1,516.3) rotate(-18) scale(0.7)" d="M0.9,-0.9 C1.6,-4.6 6.4,-5.4 8,-2.0 C6.2,-1.6 4.0,0.4 1.3,1.0 Z" fill="#2a2a2a"/>
<path transform="translate(233.1,516.3) rotate(54) scale(0.7)" d="M0.9,-0.9 C1.6,-4.6 6.4,-5.4 8,-2.0 C6.2,-1.6 4.0,0.4 1.3,1.0 Z" fill="#2a2a2a"/>
<path transform="translate(233.1,516.3) rotate(126) scale(0.7)" d="M0.9,-0.9 C1.6,-4.6 6.4,-5.4 8,-2.0 C6.2,-1.6 4.0,0.4 1.3,1.0 Z" fill="#2a2a2a"/>
<path transform="translate(233.1,516.3) rotate(198) scale(0.7)" d="M0.9,-0.9 C1.6,-4.6 6.4,-5.4 8,-2.0 C6.2,-1.6 4.0,0.4 1.3,1.0 Z" fill="#2a2a2a"/>
<text x="251.4" y="490.6" font-size="11.2" font-family='"Liberation Sans","Noto Sans CJK SC", sans-serif' font-weight="500" fill="#333" stroke="#333" stroke-width="0.15">加热器</text>
<text x="251.4" y="520.2" font-size="11.3" font-family='"Liberation Sans","Noto Sans CJK SC", sans-serif' font-weight="500" fill="#333" stroke="#333" stroke-width="0.15">风扇，冷却设备，信号设备</text>
</svg></body></html>
